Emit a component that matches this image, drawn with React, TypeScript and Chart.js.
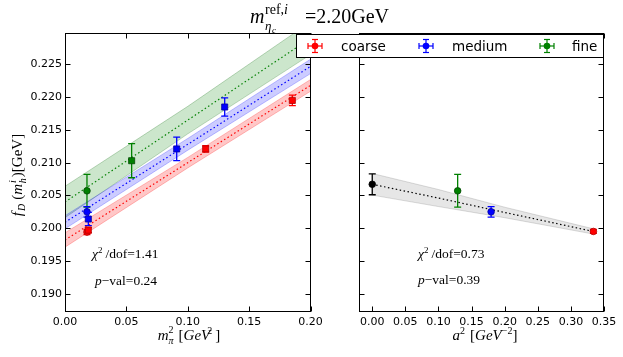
import React, { useEffect, useRef } from "react";
import { Chart, registerables } from "chart.js";

Chart.register(...registerables);

const W = 623;
const H = 357;

// ---------- shared y axis ----------
const Y_MIN = 0.1872;
const Y_MAX = 0.2298;
const Y_TICKS = [0.19, 0.195, 0.2, 0.205, 0.21, 0.215, 0.22, 0.225];

// ---------- left panel: f_D vs m_pi^2 ----------
const MPI_MIN = 0;
const MPI_MAX = 0.2;
const MPI_TICKS = [0, 0.05, 0.1, 0.15, 0.2];

const COARSE_MPI2 = [0.019, 0.1146, 0.1852];
const COARSE_FD = [0.1997, 0.2121, 0.2195];
const COARSE_ERR = [0.0004, 0.0005, 0.0008];

const MEDIUM_MPI2 = [0.019, 0.091, 0.1301];
const MEDIUM_FD = [0.2014, 0.2121, 0.2185];
const MEDIUM_ERR = [0.001, 0.0018, 0.0014];

const FINE_MPI2 = [0.0543];
const FINE_FD = [0.2103];
const FINE_ERR = [0.0026];

// values at the physical pion mass (circles)
const PHYS_MPI2 = [0.0179];
const COARSE_PHYS = [0.1994];
const COARSE_PHYS_ERR = [0.0004];
const MEDIUM_PHYS = [0.2025];
const MEDIUM_PHYS_ERR = [0.0008];
const FINE_PHYS = [0.2057];
const FINE_PHYS_ERR = [0.0025];

// chiral fit lines and bands
const FIT_MPI2 = [0, 0.1, 0.2];
const COARSE_FIT = [0.1982, 0.21, 0.2218];
const COARSE_LO = [0.1971, 0.2092, 0.2209];
const COARSE_HI = [0.1993, 0.2108, 0.2227];
const MEDIUM_FIT = [0.2009, 0.2128, 0.2247];
const MEDIUM_LO = [0.1999, 0.2119, 0.2236];
const MEDIUM_HI = [0.2019, 0.2137, 0.2258];
const FINE_FIT = [0.204, 0.2165, 0.229];
const FINE_LO = [0.2016, 0.2144, 0.2265];
const FINE_HI = [0.2064, 0.2186, 0.2315];

// ---------- right panel: continuum extrapolation ----------
const A2_MIN = -0.02;
const A2_MAX = 0.35;
const A2_TICKS = [0, 0.05, 0.1, 0.15, 0.2, 0.25, 0.3, 0.35];

const CONT_A2 = [0];
const CONT_FD = [0.2067];
const CONT_ERR = [0.0016];
const FINE_A2 = [0.129];
const MEDIUM_A2 = [0.1795];
const COARSE_A2 = [0.334];
const COARSE_A2_FD = [0.1995];
const COARSE_A2_ERR = [0.0003];

const CFIT_A2 = [0, 0.1, 0.2, 0.334];
const CFIT = [0.2067, 0.2046, 0.2024, 0.1995];
const CFIT_LO = [0.20505, 0.2033, 0.2016, 0.1991];
const CFIT_HI = [0.20835, 0.2059, 0.2032, 0.1999];

// ---------- layout ----------
const PLOT_TOP = 33;
const PLOT_BOTTOM = 312;
const LEFT_L = 65;
const LEFT_R = 310.5;
const RIGHT_L = 359;
const RIGHT_R = 604;

const RED = "#ff0000";
const BLUE = "#0000ff";
const GREEN = "#008000";
const BLACK = "#000000";

const pts = (xs: number[], ys: number[]) => xs.map((x, i) => ({ x, y: ys[i] }));

function markers(label: string, xs: number[], ys: number[], errs: number[], color: string, edge: string, style: string) {
  return {
    label,
    data: pts(xs, ys),
    errors: errs,
    errColor: color,
    showLine: false,
    pointStyle: style,
    pointRadius: style === "rect" ? 4.3 : 3.3,
    backgroundColor: color,
    borderColor: edge,
    borderWidth: 0.8,
    order: 0,
  };
}

function fitLine(xs: number[], ys: number[], color: string) {
  return {
    label: "fit",
    data: pts(xs, ys),
    showLine: true,
    borderColor: color,
    borderWidth: 1.2,
    borderDash: [1.5, 2.5],
    pointRadius: 0,
    fill: false,
    order: 1,
  };
}

function band(xs: number[], lo: number[], hi: number[], fillColor: string, edge: string) {
  return [
    {
      label: "lo",
      data: pts(xs, lo),
      showLine: true,
      borderColor: edge,
      borderWidth: 0.8,
      pointRadius: 0,
      fill: false,
      order: 2,
    },
    {
      label: "hi",
      data: pts(xs, hi),
      showLine: true,
      borderColor: edge,
      borderWidth: 0.8,
      pointRadius: 0,
      fill: "-1",
      backgroundColor: fillColor,
      order: 2,
    },
  ];
}

const errorBarPlugin = {
  id: "errbars",
  beforeDatasetDraw(chart: any, args: any) {
    const ds = chart.data.datasets[args.index];
    if (!ds.errors) return;
    const { ctx, scales } = chart;
    const x = scales.x;
    const y = scales.y;
    ctx.save();
    ctx.strokeStyle = ds.errColor;
    ctx.lineWidth = 1.3;
    ds.data.forEach((p: any, i: number) => {
      const px = x.getPixelForValue(p.x);
      const y1 = y.getPixelForValue(p.y - ds.errors[i]);
      const y2 = y.getPixelForValue(p.y + ds.errors[i]);
      const c = 3.5;
      ctx.beginPath();
      ctx.moveTo(px, y1);
      ctx.lineTo(px, y2);
      ctx.moveTo(px - c, y1);
      ctx.lineTo(px + c, y1);
      ctx.moveTo(px - c, y2);
      ctx.lineTo(px + c, y2);
      ctx.stroke();
    });
    ctx.restore();
  },
};

const framePlugin = {
  id: "frame",
  afterDraw(chart: any) {
    const { ctx, chartArea: a, scales } = chart;
    const L = Math.round(a.left) + 0.5;
    const R = Math.round(a.right) - 0.5;
    const T = Math.round(a.top) + 0.5;
    const B = Math.round(a.bottom) - 0.5;
    const tl = 5;
    ctx.save();
    ctx.strokeStyle = "#000";
    ctx.lineWidth = 1;
    ctx.strokeRect(L, T, R - L, B - T);
    ctx.beginPath();
    scales.x.ticks.forEach((t: any) => {
      const px = Math.round(scales.x.getPixelForValue(t.value)) + 0.5;
      ctx.moveTo(px, B);
      ctx.lineTo(px, B - tl);
      ctx.moveTo(px, T);
      ctx.lineTo(px, T + tl);
    });
    scales.y.ticks.forEach((t: any) => {
      const py = Math.round(scales.y.getPixelForValue(t.value)) + 0.5;
      ctx.moveTo(L, py);
      ctx.lineTo(L + tl, py);
      ctx.moveTo(R, py);
      ctx.lineTo(R - tl, py);
    });
    ctx.stroke();
    ctx.restore();
  },
};

const tickFont = { family: "'DejaVu Sans', sans-serif", size: 11 };

function xScale(min: number, max: number, ticks: number[]) {
  return {
    type: "linear",
    min,
    max,
    grid: { display: false, drawTicks: false },
    border: { display: false },
    ticks: {
      padding: 4,
      color: "#000",
      font: tickFont,
      maxRotation: 0,
      autoSkip: false,
      callback: (v: any) => Number(v).toFixed(2),
    },
    afterBuildTicks: (s: any) => {
      s.ticks = ticks.map((v) => ({ value: v }));
    },
    afterFit: (s: any) => {
      s.height = H - PLOT_BOTTOM;
    },
  };
}

function yScale(width: number, showLabels: boolean) {
  return {
    type: "linear",
    min: Y_MIN,
    max: Y_MAX,
    grid: { display: false, drawTicks: false },
    border: { display: false },
    ticks: {
      display: showLabels,
      padding: 3,
      color: "#000",
      font: tickFont,
      autoSkip: false,
      callback: (v: any) => Number(v).toFixed(3),
    },
    afterBuildTicks: (s: any) => {
      s.ticks = Y_TICKS.map((v) => ({ value: v }));
    },
    afterFit: (s: any) => {
      s.width = width;
    },
  };
}

function baseOptions(padLeft: number, padRight: number, xs: any, ys: any) {
  return {
    responsive: false,
    maintainAspectRatio: false,
    animation: false,
    devicePixelRatio: 1,
    layout: { padding: { left: padLeft, right: padRight, top: PLOT_TOP, bottom: 0 } },
    plugins: { legend: { display: false }, title: { display: false }, tooltip: { enabled: false } },
    events: [],
    scales: { x: xs, y: ys },
  };
}

export default function App() {
  const leftRef = useRef<HTMLCanvasElement>(null);
  const rightRef = useRef<HTMLCanvasElement>(null);

  useEffect(() => {
    const leftDatasets: any[] = [
      markers("coarse", COARSE_MPI2, COARSE_FD, COARSE_ERR, RED, "#b00000", "rect"),
      markers("coarse phys", PHYS_MPI2, COARSE_PHYS, COARSE_PHYS_ERR, RED, "#b00000", "circle"),
      markers("medium", MEDIUM_MPI2, MEDIUM_FD, MEDIUM_ERR, BLUE, "#0000a0", "rect"),
      markers("medium phys", PHYS_MPI2, MEDIUM_PHYS, MEDIUM_PHYS_ERR, BLUE, "#0000a0", "circle"),
      markers("fine", FINE_MPI2, FINE_FD, FINE_ERR, GREEN, "#004800", "rect"),
      markers("fine phys", PHYS_MPI2, FINE_PHYS, FINE_PHYS_ERR, GREEN, "#004800", "circle"),
      fitLine(FIT_MPI2, COARSE_FIT, RED),
      fitLine(FIT_MPI2, MEDIUM_FIT, BLUE),
      fitLine(FIT_MPI2, FINE_FIT, GREEN),
      ...band(FIT_MPI2, COARSE_LO, COARSE_HI, "rgba(255,0,0,0.22)", "rgba(255,0,0,0.3)"),
      ...band(FIT_MPI2, MEDIUM_LO, MEDIUM_HI, "rgba(0,0,255,0.2)", "rgba(0,0,255,0.3)"),
      ...band(FIT_MPI2, FINE_LO, FINE_HI, "rgba(0,128,0,0.2)", "rgba(0,100,0,0.3)"),
    ];
    const rightDatasets: any[] = [
      markers("continuum", CONT_A2, CONT_FD, CONT_ERR, BLACK, "#000", "circle"),
      markers("fine", FINE_A2, FINE_PHYS, FINE_PHYS_ERR, GREEN, "#004800", "circle"),
      markers("medium", MEDIUM_A2, MEDIUM_PHYS, MEDIUM_PHYS_ERR, BLUE, "#0000a0", "circle"),
      markers("coarse", COARSE_A2, COARSE_A2_FD, COARSE_A2_ERR, RED, "#b00000", "circle"),
      fitLine(CFIT_A2, CFIT, BLACK),
      ...band(CFIT_A2, CFIT_LO, CFIT_HI, "rgba(128,128,128,0.2)", "rgba(110,110,110,0.3)"),
    ];

    const left = new Chart(leftRef.current as HTMLCanvasElement, {
      type: "scatter",
      data: { datasets: leftDatasets },
      options: baseOptions(0, W - LEFT_R, xScale(MPI_MIN, MPI_MAX, MPI_TICKS), yScale(LEFT_L, true)) as any,
      plugins: [errorBarPlugin, framePlugin],
    });
    const right = new Chart(rightRef.current as HTMLCanvasElement, {
      type: "scatter",
      data: { datasets: rightDatasets },
      options: baseOptions(0, W - RIGHT_R, xScale(A2_MIN, A2_MAX, A2_TICKS), yScale(RIGHT_L, false)) as any,
      plugins: [errorBarPlugin, framePlugin],
    });
    return () => {
      left.destroy();
      right.destroy();
    };
  }, []);

  const serif = "'Liberation Serif', 'DejaVu Serif', serif";
  const sans = "'DejaVu Sans', sans-serif";

  const legendItems = [
    { label: "coarse", color: RED, mx: 315, tx: 341 },
    { label: "medium", color: BLUE, mx: 426, tx: 452 },
    { label: "fine", color: GREEN, mx: 547, tx: 572 },
  ];

  return (
    <div style={{ position: "absolute", left: 0, top: 0, width: W, height: H, background: "#fff" }}>
      <canvas ref={leftRef} width={W} height={H} style={{ position: "absolute", left: 0, top: 0 }} />
      <canvas ref={rightRef} width={W} height={H} style={{ position: "absolute", left: 0, top: 0 }} />
      <svg width={W} height={H} style={{ position: "absolute", left: 0, top: 0, pointerEvents: "none" }}>
        {/* title */}
        <text fontFamily={serif} fill="#000">
          <tspan x={250} y={23} fontSize={20} fontStyle="italic">m</tspan>
          <tspan x={265} y={14} fontSize={14}>ref,</tspan>
          <tspan fontSize={14} fontStyle="italic">i</tspan>
          <tspan x={265} y={30} fontSize={13} fontStyle="italic">η</tspan>
          <tspan x={272} y={33} fontSize={9} fontStyle="italic">c</tspan>
          <tspan x={305} y={23} fontSize={20}>=2.20GeV</tspan>
        </text>

        {/* y label */}
        <text fontFamily={serif} fontSize={15} fill="#000" textAnchor="middle" transform="translate(22,175) rotate(-90)">
          <tspan x={0} y={0} fontStyle="italic">f</tspan>
          <tspan fontSize={10} fontStyle="italic" dx={1} dy={3}>D</tspan>
          <tspan dx={4} dy={-3}>(</tspan>
          <tspan fontStyle="italic">m</tspan>
          <tspan fontSize={10} fontStyle="italic" dx={1} dy={-6}>i</tspan>
          <tspan fontSize={10} fontStyle="italic" dx={-3} dy={10}>h</tspan>
          <tspan dx={1} dy={-4}>)</tspan>
          <tspan>[GeV]</tspan>
        </text>

        {/* x labels */}
        <text fontFamily={serif} fontSize={15} fill="#000" textAnchor="middle" x={189} y={340}>
          <tspan fontStyle="italic">m</tspan>
          <tspan fontSize={10} fontStyle="italic" dy={4}>π</tspan>
          <tspan fontSize={10} dx={-5} dy={-11}>2</tspan>
          <tspan dx={5} dy={7}>[</tspan>
          <tspan fontStyle="italic">GeV</tspan>
          <tspan fontSize={10} dx={-3} dy={-6}>2</tspan>
          <tspan dx={3} dy={6}>]</tspan>
        </text>
        <text fontFamily={serif} fontSize={15} fill="#000" textAnchor="middle" x={485} y={340}>
          <tspan fontStyle="italic">a</tspan>
          <tspan fontSize={10} dy={-6}>2</tspan>
          <tspan dx={5} dy={6}>[</tspan>
          <tspan fontStyle="italic">GeV</tspan>
          <tspan fontSize={10} dy={-6}>−2</tspan>
          <tspan dy={6}>]</tspan>
        </text>

        {/* fit quality annotations */}
        <text fontFamily={serif} fontSize={13.5} fill="#000" x={92} y={258}>
          <tspan fontStyle="italic">χ</tspan>
          <tspan fontSize={9} dy={-5}>2</tspan>
          <tspan dx={3} dy={5}>/dof=1.41</tspan>
        </text>
        <text fontFamily={serif} fontSize={13.5} fill="#000" x={95} y={285}>
          <tspan fontStyle="italic">p</tspan>
          <tspan>−val=0.24</tspan>
        </text>
        <text fontFamily={serif} fontSize={13.5} fill="#000" x={418} y={258}>
          <tspan fontStyle="italic">χ</tspan>
          <tspan fontSize={9} dy={-5}>2</tspan>
          <tspan dx={3} dy={5}>/dof=0.73</tspan>
        </text>
        <text fontFamily={serif} fontSize={13.5} fill="#000" x={418} y={284}>
          <tspan fontStyle="italic">p</tspan>
          <tspan>−val=0.39</tspan>
        </text>

        {/* legend */}
        <rect x={296.5} y={34.5} width={307} height={23} fill="#fff" stroke="#000" strokeWidth={1} />
        {legendItems.map((it) => (
          <g key={it.label}>
            <g stroke={it.color} strokeWidth={1.2}>
              <line x1={it.mx - 7} y1={46} x2={it.mx + 7} y2={46} />
              <line x1={it.mx - 7} y1={43} x2={it.mx - 7} y2={49} />
              <line x1={it.mx + 7} y1={43} x2={it.mx + 7} y2={49} />
              <line x1={it.mx} y1={39.5} x2={it.mx} y2={52.5} />
              <line x1={it.mx - 3} y1={39.5} x2={it.mx + 3} y2={39.5} />
              <line x1={it.mx - 3} y1={52.5} x2={it.mx + 3} y2={52.5} />
            </g>
            <circle cx={it.mx} cy={46} r={3.3} fill={it.color} />
            <text x={it.tx} y={51} fontFamily={sans} fontSize={13.5} fill="#000">{it.label}</text>
          </g>
        ))}
      </svg>
    </div>
  );
}
